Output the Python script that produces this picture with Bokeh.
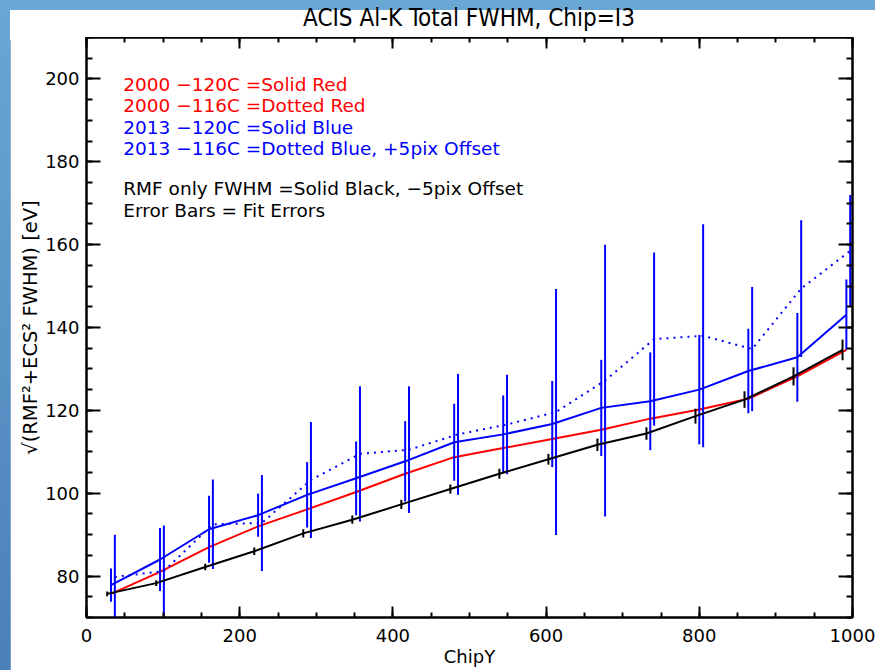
from bokeh.plotting import figure
from bokeh.models import Range1d, LinearAxis, SingleIntervalTicker, Div
from bokeh.layouts import column
from bokeh.embed import file_html
from bokeh.resources import INLINE
from bokeh.core.properties import value

# ChipY bin centres
chipy = [32, 96, 160, 224, 288, 352, 416, 480, 544, 608, 672, 736, 800, 864, 928, 992]

# 2000, -120C (solid red)
fwhm_2000_120 = [75.7, 81.0, 87.0, 92.0, 96.1, 100.3, 104.7, 108.7,
                 110.9, 113.1, 115.3, 118.0, 120.2, 122.8, 128.2, 134.6]

# 2013, -120C (solid blue) and its fit errors
fwhm_2013_120 = [77.8, 84.0, 91.3, 94.7, 99.6, 103.6, 107.7, 112.3,
                 114.2, 116.7, 120.6, 122.2, 125.0, 129.5, 132.8, 143.1]
err_2013_120 = [4.0, 7.6, 8.1, 5.2, 7.9, 8.9, 9.7, 9.3,
                9.4, 10.4, 11.6, 11.8, 13.2, 10.2, 10.7, 8.5]

# 2013, -116C (dotted blue) and its fit errors
fwhm_2013_116 = [79.8, 81.2, 92.5, 92.8, 103.2, 109.5, 110.5, 114.2,
                 116.6, 119.6, 127.2, 137.2, 138.0, 134.8, 149.4, 158.5]
err_2013_116 = [10.2, 11.0, 10.8, 11.6, 14.0, 16.3, 15.3, 14.6,
                12.0, 29.7, 32.8, 20.9, 26.9, 15.0, 16.5, 13.5]

# RMF-only FWHM (solid black) and its errors
fwhm_rmf = [75.7, 78.3, 82.2, 86.0, 90.3, 93.6, 97.3, 101.0,
            104.7, 108.2, 111.7, 114.4, 118.6, 122.6, 128.2, 134.6]
err_rmf = [0.6, 0.7, 0.8, 0.9, 1.0, 1.0, 1.1, 1.1,
           1.2, 1.3, 1.5, 1.5, 1.8, 2.0, 2.2, 2.5]

pix_offset = 5

title_text = "ACIS Al-K Total FWHM, Chip=I3"

legend_lines = [
    "2000 \u2212120C =Solid Red",
    "2000 \u2212116C =Dotted Red",
    "2013 \u2212120C =Solid Blue",
    "2013 \u2212116C =Dotted Blue, +5pix Offset",
    "RMF only FWHM =Solid Black, \u22125pix Offset",
    "Error Bars = Fit Errors",
]
legend_colors = ["#ff0000", "#ff0000", "#0000ff", "#0000ff", "#000000", "#000000"]
legend_y = [198.6, 193.5, 188.2, 183.1, 173.5, 168.2]

FONT = "DejaVu Sans"

x_dot = [c + pix_offset for c in chipy]
x_rmf = [c - pix_offset for c in chipy]

# title strip above the plot, centred over the data frame
title_div = Div(
    text=title_text, width=865, height=27, margin=(10, 0, 0, 10),
    styles={
        "background-color": "white",
        "box-shadow": "0 3px 0 white",
        "font-family": "'DejaVu Sans Condensed', 'DejaVu Sans', sans-serif",
        "font-size": "24px",
        "line-height": "17px",
        "color": "black",
        "text-align": "center",
        "padding-left": "53px",
        "box-sizing": "border-box",
        "overflow": "visible",
        "white-space": "nowrap",
    },
)

p = figure(
    width=865, height=633,
    x_range=Range1d(0, 1000), y_range=Range1d(70, 210),
    output_backend="svg", toolbar_location=None,
    min_border_left=76, min_border_right=23,
    min_border_top=0, min_border_bottom=53,
)
p.margin = (0, 0, 0, 10)
p.background_fill_color = "white"
p.border_fill_color = "white"
p.grid.visible = False
p.outline_line_color = "black"
p.outline_line_width = 2

xt = SingleIntervalTicker(interval=200, num_minor_ticks=4)
yt = SingleIntervalTicker(interval=20, num_minor_ticks=4)


def style_axis(ax, major_len, minor_len, labels=True):
    ax.axis_line_width = 2
    ax.axis_line_color = "black"
    ax.major_tick_line_width = 2
    ax.minor_tick_line_width = 2
    ax.major_tick_in = major_len
    ax.major_tick_out = 0
    ax.minor_tick_in = minor_len
    ax.minor_tick_out = 0
    ax.major_label_text_font = FONT
    ax.major_label_text_color = "black"
    ax.axis_label_text_color = "black"
    if labels:
        ax.major_label_text_font_size = "18px"
    else:
        # mirrored axis: ticks only, no labels
        ax.major_label_text_font_size = "0px"
        ax.major_label_text_alpha = 0
        ax.major_label_text_color = None
        ax.major_label_standoff = 0


xa = p.xaxis[0]
xa.ticker = xt
style_axis(xa, 11, 5)
xa.major_label_standoff = 11
xa.axis_label = "ChipY"
xa.axis_label_text_font = FONT
xa.axis_label_text_font_size = "18px"
xa.axis_label_text_font_style = "normal"
xa.axis_label_standoff = 1

ya = p.yaxis[0]
ya.ticker = yt
style_axis(ya, 14, 6)
ya.major_label_standoff = 7
ya.axis_label = "\u221a(RMF\u00b2+ECS\u00b2 FWHM) [eV]"
ya.axis_label_text_font = FONT
ya.axis_label_text_font_size = "19.5px"
ya.axis_label_text_font_style = "normal"
ya.axis_label_standoff = 0

top = LinearAxis(ticker=SingleIntervalTicker(interval=200, num_minor_ticks=4))
style_axis(top, 11, 5, labels=False)
p.add_layout(top, "above")

right = LinearAxis(ticker=SingleIntervalTicker(interval=20, num_minor_ticks=4))
style_axis(right, 14, 6, labels=False)
p.add_layout(right, "right")

# 2000 -120C
p.line(chipy, fwhm_2000_120, line_color="#ff0000", line_width=2)

# 2013 -120C with error bars
lo = [v - e for v, e in zip(fwhm_2013_120, err_2013_120)]
hi = [v + e for v, e in zip(fwhm_2013_120, err_2013_120)]
p.segment(x0=chipy, y0=lo, x1=chipy, y1=hi, line_color="#0000ff", line_width=2)
p.line(chipy, fwhm_2013_120, line_color="#0000ff", line_width=2)

# 2013 -116C, dotted, with error bars
lo = [v - e for v, e in zip(fwhm_2013_116, err_2013_116)]
hi = [v + e for v, e in zip(fwhm_2013_116, err_2013_116)]
p.segment(x0=x_dot, y0=lo, x1=x_dot, y1=hi, line_color="#0000ff", line_width=2)
p.line(x_dot, fwhm_2013_116, line_color="#0000ff", line_width=2, line_dash="2 5")

# RMF only
lo = [v - e for v, e in zip(fwhm_rmf, err_rmf)]
hi = [v + e for v, e in zip(fwhm_rmf, err_rmf)]
p.segment(x0=x_rmf, y0=lo, x1=x_rmf, y1=hi, line_color="black", line_width=2)
p.line(x_rmf, fwhm_rmf, line_color="black", line_width=2)

# annotation block
p.text(x=[48] * len(legend_lines), y=legend_y, text=legend_lines,
       text_color=legend_colors, text_font=value(FONT),
       text_font_size="18.5px", text_baseline="middle", text_align="left")

page = column(title_div, p, width=875, height=670, spacing=0,
              styles={"background": "linear-gradient(to bottom, #6aa7d4, #4a80b8)"})

open("out.html", "w").write(file_html(page, INLINE))
